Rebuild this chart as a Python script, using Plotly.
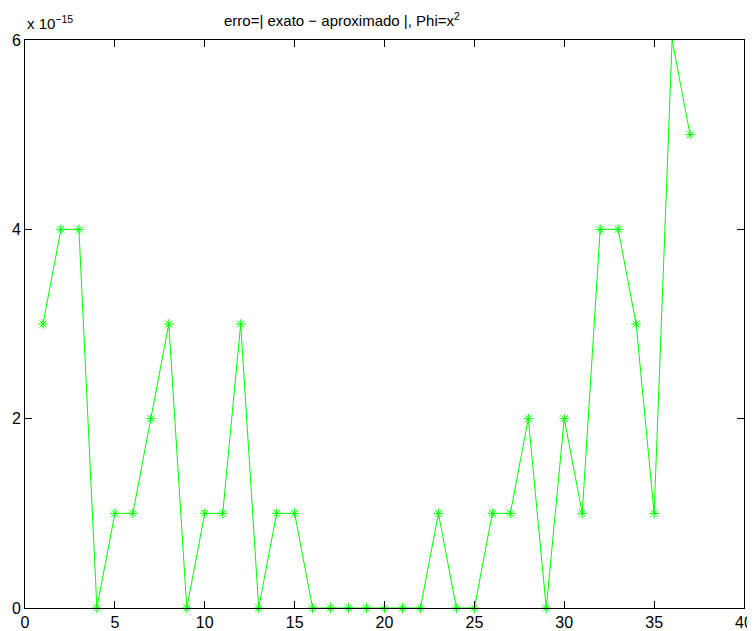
import plotly.graph_objects as go

x_vals = list(range(1, 38))
erro_e15 = [3, 4, 4, 0, 1, 1, 2, 3, 0, 1, 1, 3, 0, 1, 1, 0, 0, 0, 0, 0, 0, 0, 1, 0, 0,
            1, 1, 2, 0, 2, 1, 4, 4, 3, 1, 6, 5]
scale = 1e-15
y_vals = [v * scale for v in erro_e15]
x_ticks = [0, 5, 10, 15, 20, 25, 30, 35, 40]
y_tick_labels = ["0", "2", "4", "6"]

fig = go.Figure()
fig.add_trace(go.Scatter(
    x=x_vals, y=y_vals, mode="lines+markers",
    line=dict(color="#00ff00", width=1),
    marker=dict(symbol="asterisk-open", size=8, color="#00ff00",
                line=dict(color="#00ff00", width=1)),
    showlegend=False,
    cliponaxis=False,
))

fam = "Liberation Sans, Arial, Helvetica, sans-serif"
tick_font = dict(family=fam, size=16, color="black")
text_font = dict(family=fam, size=15, color="black")

common = dict(ticks="inside", ticklen=7, tickcolor="black", tickwidth=1,
              showline=True, linecolor="black", linewidth=1, mirror="ticks",
              showgrid=False, zeroline=False, tickfont=tick_font, automargin=False)

# page body has an 8px margin, so the figure is sized/positioned to compensate
fig.update_layout(
    width=747, height=623,
    margin=dict(l=17, r=11, t=32, b=23),
    paper_bgcolor="white", plot_bgcolor="white",
    font=text_font,
    xaxis=dict(range=[0, 40], tickvals=x_ticks, **common),
    yaxis=dict(range=[0, 6e-15], tickvals=[int(t) * scale for t in y_tick_labels],
               ticktext=y_tick_labels, **common),
    annotations=[
        dict(text="erro=| exato \u2212 aproximado |, Phi=x<sup>2</sup>",
             xref="paper", yref="paper", x=0.441, y=1, yshift=9,
             xanchor="center", yanchor="bottom", showarrow=False, font=text_font),
        dict(text="x 10<sup>\u221215</sup>",
             xref="paper", yref="paper", x=0, y=1, yshift=6,
             xanchor="left", yanchor="bottom", showarrow=False, font=text_font),
    ],
)

fig.write_html("out.html")
